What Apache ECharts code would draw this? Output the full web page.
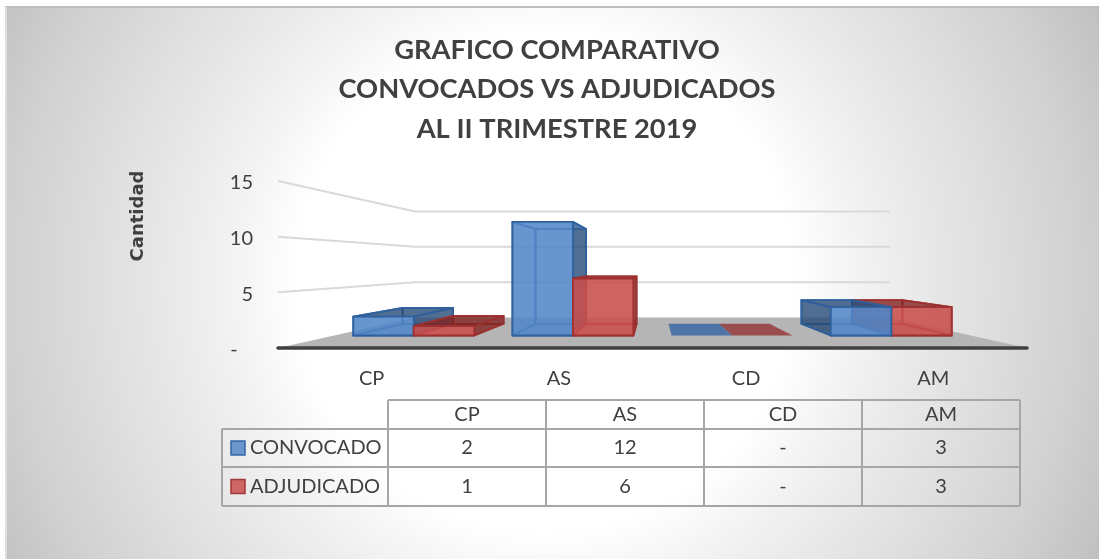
<!DOCTYPE html>
<html lang="es">

<head>
    <meta charset="UTF-8">
    <title>grafico comparativo</title>
    <script src="https://cdn.jsdelivr.net/npm/echarts@6/dist/echarts.min.js"></script>
    <style>
        html, body { margin: 0; padding: 0; background: #fff; }
        #chart { width: 1099px; height: 559px; }
    </style>
</head>

<body>
    <div id="chart"></div>
    <script>
        var categories = ['CP', 'AS', 'CD', 'AM'];
        var convocado = [2, 12, 0, 3];
        var adjudicado = [1, 6, 0, 3];
        var yTicks = [0, 5, 10, 15];
        var titleLines = ['GRAFICO COMPARATIVO', 'CONVOCADOS VS ADJUDICADOS', 'AL II TRIMESTRE 2019'];

        var FONT = 'Lato';
        var TEXT = '#404040';

        // perspectiva: escala de profundidad respecto al plano frontal
        var BACK = 0.634;      // fondo del piso
        var BAR_FRONT = 0.85;  // cara frontal de las barras
        var BAR_BACK = 0.71;   // cara trasera de las barras
        var HORIZON = 7.5;     // valor del eje a la altura de la vista
        var BAR_WIDTH = 0.38;  // ancho de barra, fraccion de categoria

        var blue = {
            front: 'rgba(84,135,200,0.85)', inner: 'rgba(84,135,200,0.25)',
            side: 'rgba(38,72,115,0.75)', flat: 'rgba(60,105,165,0.85)', stroke: 'rgba(47,97,158,0.95)'
        };
        var red = {
            front: 'rgba(200,80,78,0.85)', inner: 'rgba(200,80,78,0.25)',
            side: 'rgba(125,35,33,0.75)', flat: 'rgba(150,65,65,0.9)', stroke: 'rgba(158,50,48,0.95)'
        };

        function vanish(api) {
            var l = api.coord([0, 0])[0] - api.size([1, 0])[0] / 2;
            var r = api.coord([categories.length - 1, 0])[0] + api.size([1, 0])[0] / 2;
            return [(l + r) / 2, api.coord([0, HORIZON])[1], l, r];
        }

        // lleva un punto del plano frontal a la profundidad s
        function project(vp, p, s) {
            return [vp[0] + (p[0] - vp[0]) * s, vp[1] + (p[1] - vp[1]) * s];
        }

        function barItem(colors, side, values) {
            return function (params, api) {
                var i = params.dataIndex;
                var v = values[i];
                var vp = vanish(api);
                var band = api.size([1, 0])[0];
                var c = api.coord([i, 0]);
                var top = api.coord([i, v])[1];
                var x0 = side < 0 ? c[0] - band * BAR_WIDTH : c[0];
                var x1 = side < 0 ? c[0] : c[0] + band * BAR_WIDTH;
                var p = function (x, y, s) { return project(vp, [x, y], s); };
                var F = BAR_FRONT, B = BAR_BACK;
                var y0 = c[1];

                var faces = [];
                function face(points, fill, width) {
                    // a la derecha del centro la barra azul queda delante de la roja
                    var order = c[0] > vp[0] ? -side : side;
                    faces.push({
                        type: 'polygon',
                        z2: 10 + order * 5 + faces.length * 0.1,
                        shape: { points: points },
                        style: { fill: fill, stroke: colors.stroke, lineWidth: width === undefined ? 1.8 : width, lineJoin: 'round' }
                    });
                }

                if (v === 0) {
                    face([p(x0, y0, F), p(x1, y0, F), p(x1, y0, B), p(x0, y0, B)], colors.flat, 0);
                    return { type: 'group', children: faces };
                }

                var seeTop = v < HORIZON;
                var seeLeft = x0 > vp[0];
                var seeRight = x1 < vp[0];
                face([p(x0, y0, B), p(x1, y0, B), p(x1, top, B), p(x0, top, B)], colors.inner);
                face([p(x0, y0, F), p(x1, y0, F), p(x1, y0, B), p(x0, y0, B)], colors.inner);
                face([p(x0, y0, F), p(x0, top, F), p(x0, top, B), p(x0, y0, B)], seeLeft ? colors.side : colors.inner);
                face([p(x1, y0, F), p(x1, top, F), p(x1, top, B), p(x1, y0, B)], seeRight ? colors.side : colors.inner);
                face([p(x0, top, F), p(x1, top, F), p(x1, top, B), p(x0, top, B)], seeTop ? colors.side : colors.inner);
                face([p(x0, y0, F), p(x1, y0, F), p(x1, top, F), p(x0, top, F)], colors.front);
                return { type: 'group', children: faces };
            };
        }

        function floorItem(params, api) {
            var vp = vanish(api);
            var y = api.coord([0, 0])[1];
            var a = [vp[2], y], b = [vp[3], y];
            return {
                type: 'polygon',
                shape: { points: [a, b, project(vp, b, BACK), project(vp, a, BACK)] },
                style: { fill: '#b5b5b5' }
            };
        }

        function gridItem(params, api) {
            var v = yTicks[params.dataIndex];
            if (v === 0) { return null; }
            var vp = vanish(api);
            var y = api.coord([0, v])[1];
            var a = [vp[2], y];
            return {
                type: 'polyline',
                shape: { points: [a, project(vp, a, BACK), project(vp, [vp[3], y], BACK)] },
                style: { fill: null, stroke: '#d9d9d9', lineWidth: 2 }
            };
        }

        function dash(v) {
            return v === 0 ? '-' : String(v);
        }

        function tableGraphics() {
            var xs = [388, 546, 704, 862, 1020];
            var ys = [400, 429, 467, 506];
            var left = 222;
            var line = { stroke: '#a6a6a6', lineWidth: 2 };
            var out = [];
            function addLine(x1, y1, x2, y2) {
                out.push({ type: 'line', shape: { x1: x1, y1: y1, x2: x2, y2: y2 }, style: line });
            }
            function addText(text, x, y, align) {
                out.push({
                    type: 'text', x: x, y: y,
                    style: { text: text, fill: TEXT, font: '20px ' + FONT, align: align || 'center', verticalAlign: 'middle' }
                });
            }
            xs.forEach(function (x) { addLine(x, ys[0], x, ys[3]); });
            addLine(left, ys[1], left, ys[3]);
            addLine(xs[0], ys[0], xs[4], ys[0]);
            addLine(left, ys[1], xs[4], ys[1]);
            addLine(left, ys[2], xs[4], ys[2]);
            addLine(left, ys[3], xs[4], ys[3]);

            var rows = [
                { name: 'CONVOCADO', values: convocado, c: blue },
                { name: 'ADJUDICADO', values: adjudicado, c: red }
            ];
            categories.forEach(function (cat, i) {
                addText(cat, (xs[i] + xs[i + 1]) / 2, (ys[0] + ys[1]) / 2);
            });
            rows.forEach(function (row, r) {
                var mid = (ys[r + 1] + ys[r + 2]) / 2;
                out.push({
                    type: 'rect',
                    shape: { x: 231, y: mid - 7, width: 14, height: 14 },
                    style: { fill: row.c.front, stroke: row.c.stroke, lineWidth: 1.5 }
                });
                addText(row.name, 250, mid, 'left');
                row.values.forEach(function (v, i) {
                    addText(dash(v), (xs[i] + xs[i + 1]) / 2, mid);
                });
            });
            return out;
        }

        var myChart = echarts.init(document.getElementById('chart'));

        var background = {
            type: 'rect', z: -10, silent: true,
            shape: { x: 5, y: 6, width: 1094, height: 553 },
            style: {
                stroke: null,
                fill: new echarts.graphic.RadialGradient(545, 282, 620, [
                    { offset: 0, color: '#ffffff' },
                    { offset: 0.4, color: '#ffffff' },
                    { offset: 0.46, color: '#f8f8f8' },
                    { offset: 0.54, color: '#efefef' },
                    { offset: 0.68, color: '#e2e2e2' },
                    { offset: 0.86, color: '#d1d1d1' },
                    { offset: 0.97, color: '#c4c4c4' },
                    { offset: 1, color: '#bfbfbf' }
                ], true)
            }
        };
        var borderTop = {
            type: 'line', z: -9, silent: true,
            shape: { x1: 5, y1: 7, x2: 1099, y2: 7 },
            style: { stroke: '#bdbdbd', lineWidth: 2 }
        };
        var borderLeft = {
            type: 'line', z: -9, silent: true,
            shape: { x1: 6, y1: 7, x2: 6, y2: 559 },
            style: { stroke: '#dedede', lineWidth: 2 }
        };

        var option = {
            animation: false,
            title: {
                text: titleLines.join('\n'),
                left: 552, top: 25, textAlign: 'center',
                textStyle: { fontFamily: FONT, fontWeight: 'bold', fontSize: 27.3, color: TEXT, lineHeight: 39.5 }
            },
            grid: { left: 278, top: 181, width: 749, height: 167 },
            xAxis: {
                type: 'category', data: categories, z: 5,
                axisTick: { show: false },
                axisLine: { lineStyle: { color: '#404040', width: 3.5, cap: 'round' } },
                axisLabel: { margin: 21, color: TEXT, fontFamily: FONT, fontSize: 20 }
            },
            yAxis: {
                type: 'value', min: 0, max: 15, interval: 5,
                axisLine: { show: false }, axisTick: { show: false }, splitLine: { show: false },
                axisLabel: {
                    margin: 25, color: TEXT, fontFamily: FONT, fontSize: 20,
                    verticalAlign: 'top', lineHeight: 4,
                    formatter: function (v) { return v === 0 ? '-   ' : v; }
                }
            },
            graphic: { elements: [background, borderTop, borderLeft].concat(tableGraphics()).concat([{
                type: 'text', x: 138, y: 216, rotation: Math.PI / 2,
                style: { text: 'Cantidad', fill: TEXT, font: 'bold 18px "DejaVu Sans"', align: 'center', verticalAlign: 'middle' }
            }]) },
            series: [
                { type: 'custom', name: 'piso', z: 1, silent: true, data: [0], renderItem: floorItem },
                { type: 'custom', name: 'rejilla', z: 1, silent: true, data: yTicks, renderItem: gridItem },
                { type: 'custom', name: 'CONVOCADO', data: convocado, renderItem: barItem(blue, -1, convocado) },
                { type: 'custom', name: 'ADJUDICADO', data: adjudicado, renderItem: barItem(red, 1, adjudicado) }
            ]
        };
        myChart.setOption(option);
    </script>
</body>

</html>
